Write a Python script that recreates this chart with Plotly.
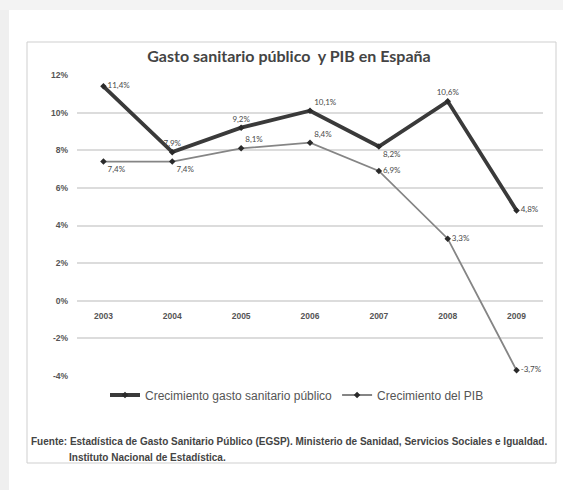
import plotly.graph_objects as go

years = ["2003", "2004", "2005", "2006", "2007", "2008", "2009"]
gasto = [11.4, 7.9, 9.2, 10.1, 8.2, 10.6, 4.8]
pib = [7.4, 7.4, 8.1, 8.4, 6.9, 3.3, -3.7]
ytick_vals = [-4, -2, 0, 2, 4, 6, 8, 10, 12]
ytick_text = ["<b>-4%</b>", "<b>-2%</b>", "<b>0%</b>", "<b>2%</b>", "<b>4%</b>",
              "<b>6%</b>", "<b>8%</b>", "<b>10%</b>", "<b>12%</b>"]

gasto_pos = ["middle right", "top center", "top center", "top right", "bottom right", "top center", "middle right"]
pib_pos = ["bottom right", "bottom right", "top right", "top right", "middle right", "middle right", "middle right"]

def fmt(v):
    return (f"{v:.1f}%").replace(".", ",")

W, H = 563, 490
L, R, T, B = 77, 20, 75, 114
pw, ph = W - L - R, H - T - B

def px(x):
    return (x - L) / pw

def py(y):
    return (H - B - y) / ph

fig = go.Figure()
fig.add_trace(go.Scatter(
    x=years, y=gasto, mode="lines+markers+text",
    name="Crecimiento gasto sanitario público",
    line=dict(color="#3a3a3a", width=3.8),
    marker=dict(symbol="diamond", size=5, color="#2a2a2a"),
    text=[fmt(v) for v in gasto], textposition=gasto_pos,
    textfont=dict(family="Lato", size=8, color="#4a4a4a"),
    cliponaxis=False,
))
fig.add_trace(go.Scatter(
    x=years, y=pib, mode="lines+markers+text",
    name="Crecimiento del PIB",
    line=dict(color="#858585", width=1.8),
    marker=dict(symbol="diamond", size=5, color="#2a2a2a"),
    text=[fmt(v) for v in pib], textposition=pib_pos,
    textfont=dict(family="Lato", size=8, color="#4a4a4a"),
    cliponaxis=False,
))

zero_pos = (0 - (-4)) / 16

shapes = [
    dict(type="rect", xref="paper", yref="paper", x0=px(0), x1=px(9), y0=py(H), y1=py(0),
         fillcolor="#efefef", line=dict(width=0), layer="below"),
    dict(type="rect", xref="paper", yref="paper", x0=px(0), x1=px(W), y0=py(10), y1=py(0),
         fillcolor="#f3f3f3", line=dict(width=0), layer="below"),
    dict(type="rect", xref="paper", yref="paper", x0=px(27), x1=px(556), y0=py(463), y1=py(42),
         fillcolor="rgba(0,0,0,0)", line=dict(color="#cfcfcf", width=1), layer="below"),
]

fig.update_layout(
    width=W, height=H,
    margin=dict(l=L, r=R, t=T, b=B),
    paper_bgcolor="white", plot_bgcolor="white",
    font=dict(family="Liberation Sans", color="#555555"),
    title=dict(text="<b>Gasto sanitario público  y PIB en España</b>",
               x=px(289), xref="paper", xanchor="center",
               y=1 - 56 / H, yref="container", yanchor="middle",
               font=dict(family="Lato", size=16, color="#444444")),
    xaxis=dict(type="category", anchor="free", position=zero_pos,
               showgrid=False, showline=False, zeroline=False, ticks="",
               tickvals=years, ticktext=[f"<b>{y}</b>" for y in years],
               tickfont=dict(family="Liberation Sans", size=8.5, color="#555555"),
               ticklabelstandoff=9),
    yaxis=dict(range=[-4, 12], tickvals=ytick_vals, ticktext=ytick_text,
               showgrid=True, gridcolor="#dcdcdc", gridwidth=1.5,
               zeroline=False, showline=False, ticks="",
               tickfont=dict(family="Liberation Sans", size=8.5, color="#555555"),
               ticklabelstandoff=8),
    showlegend=True,
    legend=dict(orientation="h", x=px(297), xanchor="center", y=py(395), yanchor="middle",
                font=dict(family="Liberation Sans", size=12, color="#555555"),
                bgcolor="rgba(0,0,0,0)"),
    shapes=shapes,
    annotations=[
        dict(text="<b>Fuente: Estadística de Gasto Sanitario Público (EGSP). Ministerio de Sanidad, Servicios Sociales e Igualdad.</b>",
             xref="paper", yref="paper", x=px(29), y=py(442), xanchor="left", yanchor="middle",
             showarrow=False, font=dict(family="Liberation Sans", size=10, color="#444444")),
        dict(text="<b>Instituto Nacional de Estadística.</b>",
             xref="paper", yref="paper", x=px(67), y=py(457), xanchor="left", yanchor="middle",
             showarrow=False, font=dict(family="Liberation Sans", size=10, color="#444444")),
    ],
)

fig.write_html("out.html")
